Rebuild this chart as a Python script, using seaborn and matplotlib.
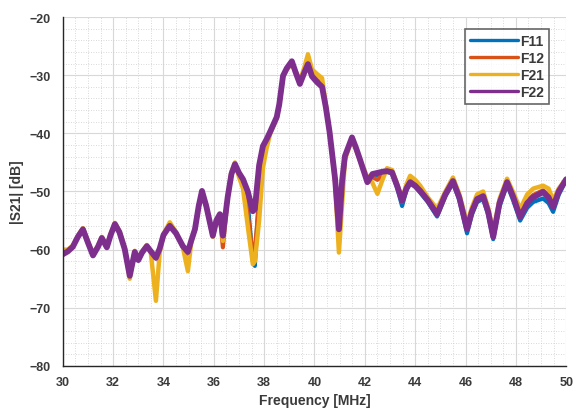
import matplotlib
matplotlib.use("Agg")
import matplotlib.pyplot as plt
from matplotlib.ticker import MultipleLocator
import seaborn as sns

# -----------------------------
# Data
# -----------------------------
freq = [30.0, 30.2, 30.4, 30.6, 30.8, 31.0, 31.2, 31.4, 31.55, 31.75,
        31.9, 32.07, 32.25, 32.46, 32.66, 32.86, 33.0, 33.15, 33.34, 33.5,
        33.7, 33.85, 34.0, 34.25, 34.5, 34.77, 34.97, 35.1, 35.25, 35.4,
        35.53, 35.7, 35.96, 36.1, 36.24, 36.36, 36.55, 36.7, 36.84, 37.0,
        37.16, 37.35, 37.55, 37.63, 37.8, 37.95, 38.1, 38.23, 38.5, 38.6,
        38.75, 38.9, 39.1, 39.25, 39.42, 39.6, 39.74, 39.9, 40.1, 40.3,
        40.45, 40.6, 40.82, 40.97, 41.1, 41.21, 41.49, 41.65, 41.8, 42.1,
        42.3, 42.5, 42.7, 42.88, 43.08, 43.28, 43.48, 43.65, 43.8, 44.0,
        44.2, 44.5, 44.87, 45.2, 45.5, 45.75, 46.06, 46.25, 46.46, 46.7,
        46.9, 47.1, 47.35, 47.65, 47.9, 48.17, 48.45, 48.69, 49.08, 49.3,
        49.48, 49.7, 50.0]

f22 = [-60.8, -60.3, -59.5, -57.8, -56.5, -58.8, -61.0, -59.5, -58.0, -59.6,
       -57.5, -55.6, -57.0, -59.9, -64.5, -60.4, -61.8, -60.5, -59.4, -60.3,
       -61.4, -59.8, -57.5, -55.9, -57.2, -59.4, -60.4, -58.5, -56.5, -52.5,
       -49.9, -52.5, -57.6, -55.0, -53.9, -57.6, -51.0, -47.0, -45.3, -46.8,
       -47.9, -50.0, -53.4, -53.0, -45.5, -42.2, -41.0, -39.8, -37.2, -35.0,
       -30.1, -28.8, -27.6, -29.5, -31.5, -29.5, -28.1, -30.2, -31.2, -32.0,
       -35.5, -39.8, -47.9, -56.5, -48.0, -43.9, -40.7, -42.5, -44.4, -48.4,
       -47.0, -46.8, -46.6, -46.5, -46.7, -49.0, -51.6, -49.5, -48.4, -49.0,
       -49.9, -51.5, -53.9, -50.5, -48.2, -51.0, -56.5, -53.5, -51.3, -50.8,
       -53.5, -57.8, -52.0, -48.4, -51.0, -54.4, -52.0, -51.0, -50.1, -51.0,
       -52.7, -50.0, -47.9]

f21 = [-60.0, -60.0, -59.3, -57.6, -56.3, -58.6, -60.8, -59.3, -57.8, -59.4,
       -57.3, -55.4, -56.8, -59.7, -65.0, -60.2, -61.6, -60.3, -59.2, -60.6,
       -68.8, -60.5, -57.3, -55.3, -57.0, -59.6, -63.7, -58.8, -56.5, -52.5,
       -50.3, -52.5, -57.8, -55.0, -53.9, -58.5, -50.8, -46.6, -45.0, -47.5,
       -49.5, -56.0, -62.5, -62.0, -55.0, -46.0, -42.5, -40.2, -37.4, -35.2,
       -30.3, -29.0, -28.0, -29.3, -31.0, -28.6, -26.4, -29.0, -29.8, -30.5,
       -35.0, -39.8, -48.5, -60.5, -52.0, -44.5, -41.0, -42.8, -44.6, -47.5,
       -48.5, -50.4, -48.0, -46.0, -46.3, -48.6, -51.3, -48.8, -47.3, -48.0,
       -49.0, -51.0, -53.0, -50.0, -47.6, -50.4, -55.5, -52.8, -50.5, -50.0,
       -52.8, -57.0, -51.3, -47.8, -50.2, -53.0, -50.5, -49.5, -49.0, -49.5,
       -51.5, -49.5, -47.8]

f12 = [-60.6, -60.2, -59.4, -57.7, -56.4, -58.7, -60.9, -59.4, -57.9, -59.5,
       -57.4, -55.5, -56.9, -59.8, -64.6, -60.3, -61.7, -60.4, -59.3, -60.2,
       -61.5, -59.9, -57.4, -55.6, -57.1, -59.5, -60.8, -58.6, -56.5, -52.5,
       -50.0, -52.5, -57.7, -55.0, -53.9, -59.6, -51.0, -46.9, -45.4, -47.2,
       -48.8, -54.0, -61.0, -60.0, -52.0, -45.0, -41.8, -40.0, -37.3, -35.1,
       -30.2, -28.9, -27.8, -29.5, -31.3, -29.2, -27.8, -29.9, -30.8, -31.6,
       -35.3, -39.8, -48.2, -58.5, -50.0, -44.2, -40.9, -42.6, -44.5, -48.0,
       -47.5, -48.0, -47.2, -46.3, -46.6, -48.9, -51.8, -49.3, -48.1, -48.8,
       -49.7, -51.4, -53.8, -50.4, -48.1, -50.9, -56.0, -53.3, -51.0, -50.6,
       -53.3, -57.6, -51.8, -48.2, -50.8, -54.0, -51.5, -50.6, -49.8, -50.6,
       -52.5, -49.8, -47.9]

f11 = [-60.7, -60.3, -59.5, -57.8, -56.5, -58.8, -61.0, -59.5, -58.0, -59.6,
       -57.5, -55.6, -57.0, -59.9, -64.5, -60.4, -61.8, -60.5, -59.4, -60.3,
       -61.5, -59.8, -57.5, -55.9, -57.2, -59.5, -60.6, -58.5, -56.5, -52.5,
       -50.0, -52.5, -57.6, -55.0, -53.9, -58.0, -51.0, -47.0, -45.4, -47.0,
       -48.5, -52.0, -62.0, -62.8, -50.0, -44.5, -41.5, -40.0, -37.3, -35.1,
       -30.2, -28.9, -27.8, -29.6, -31.5, -29.5, -28.2, -30.2, -31.0, -31.8,
       -35.5, -39.8, -48.0, -57.5, -49.0, -44.0, -40.8, -42.6, -44.5, -48.3,
       -47.2, -47.2, -46.8, -46.6, -46.9, -49.3, -52.5, -49.8, -48.6, -49.2,
       -50.2, -51.8, -54.3, -50.8, -48.5, -51.4, -57.2, -54.0, -51.8, -51.3,
       -54.0, -58.2, -52.6, -48.8, -51.6, -55.0, -52.8, -51.8, -51.2, -52.0,
       -53.5, -50.6, -48.0]

series = {"F11": f11, "F12": f12, "F21": f21, "F22": f22}
colors = {"F11": "#0072BD", "F12": "#D95319", "F21": "#EDB120", "F22": "#7E2F8E"}
widths = {"F11": 3.0, "F12": 3.0, "F21": 3.2, "F22": 4.2}

x_ticks = [30, 32, 34, 36, 38, 40, 42, 44, 46, 48, 50]
y_ticks = [-80, -70, -60, -50, -40, -30, -20]


def main():
    sns.set_style("white")
    plt.rcParams["font.family"] = ["Liberation Sans", "DejaVu Sans"]

    fig = plt.figure(figsize=(5.76, 4.10), dpi=100)
    ax = fig.add_axes([0.109, 0.105, 0.874, 0.851])

    # -----------------------------
    # Curves
    # -----------------------------
    for name, vals in series.items():
        sns.lineplot(x=freq, y=vals, ax=ax, color=colors[name],
                     linewidth=widths[name], label=name, sort=False,
                     estimator=None)

    # -----------------------------
    # Axes, grid, ticks
    # -----------------------------
    ax.set_xlim(30, 50)
    ax.set_ylim(-80, -20)
    ax.set_xticks(x_ticks)
    ax.set_yticks(y_ticks)
    ax.xaxis.set_minor_locator(MultipleLocator(0.5))
    ax.yaxis.set_minor_locator(MultipleLocator(2))

    ax.grid(True, which="major", color="#d8d8d8", linewidth=0.8)
    ax.grid(True, which="minor", color="#cccccc", linewidth=0.6,
            linestyle=(0, (1, 2)))
    ax.set_axisbelow(True)

    for side in ["top", "right"]:
        ax.spines[side].set_visible(False)
    for side in ["left", "bottom"]:
        ax.spines[side].set_color("#262626")
        ax.spines[side].set_linewidth(1.0)

    ax.tick_params(axis="both", which="major", direction="in", length=4,
                   width=1, color="#262626", labelsize=9,
                   labelcolor="#3a3a3a")
    ax.tick_params(axis="y", which="major", pad=8.5)
    ax.tick_params(axis="x", which="major", pad=7)
    ax.tick_params(which="minor", length=0)
    for lab in ax.get_xticklabels() + ax.get_yticklabels():
        lab.set_fontweight("bold")

    ax.set_xlabel("Frequency [MHz]", fontsize=10, color="#3a3a3a",
                  fontweight="bold", labelpad=4)
    ax.set_ylabel("|S21| [dB]", fontsize=10, color="#3a3a3a",
                  fontweight="bold", labelpad=4)

    # -----------------------------
    # Legend
    # -----------------------------
    leg = ax.legend(loc="upper right", bbox_to_anchor=(0.966, 0.966),
                    borderaxespad=0, frameon=True, fancybox=False,
                    handlelength=3.4, handletextpad=0.2, labelspacing=0.22,
                    borderpad=0.35, prop={"size": 10, "weight": "bold"})
    leg.get_frame().set_edgecolor("#404040")
    leg.get_frame().set_linewidth(1.2)
    for line in leg.get_lines():
        line.set_linewidth(2.4)
    for txt in leg.get_texts():
        txt.set_color("#3a3a3a")

    fig.savefig("out.png", dpi=100)
    plt.close(fig)


if __name__ == "__main__":
    main()
